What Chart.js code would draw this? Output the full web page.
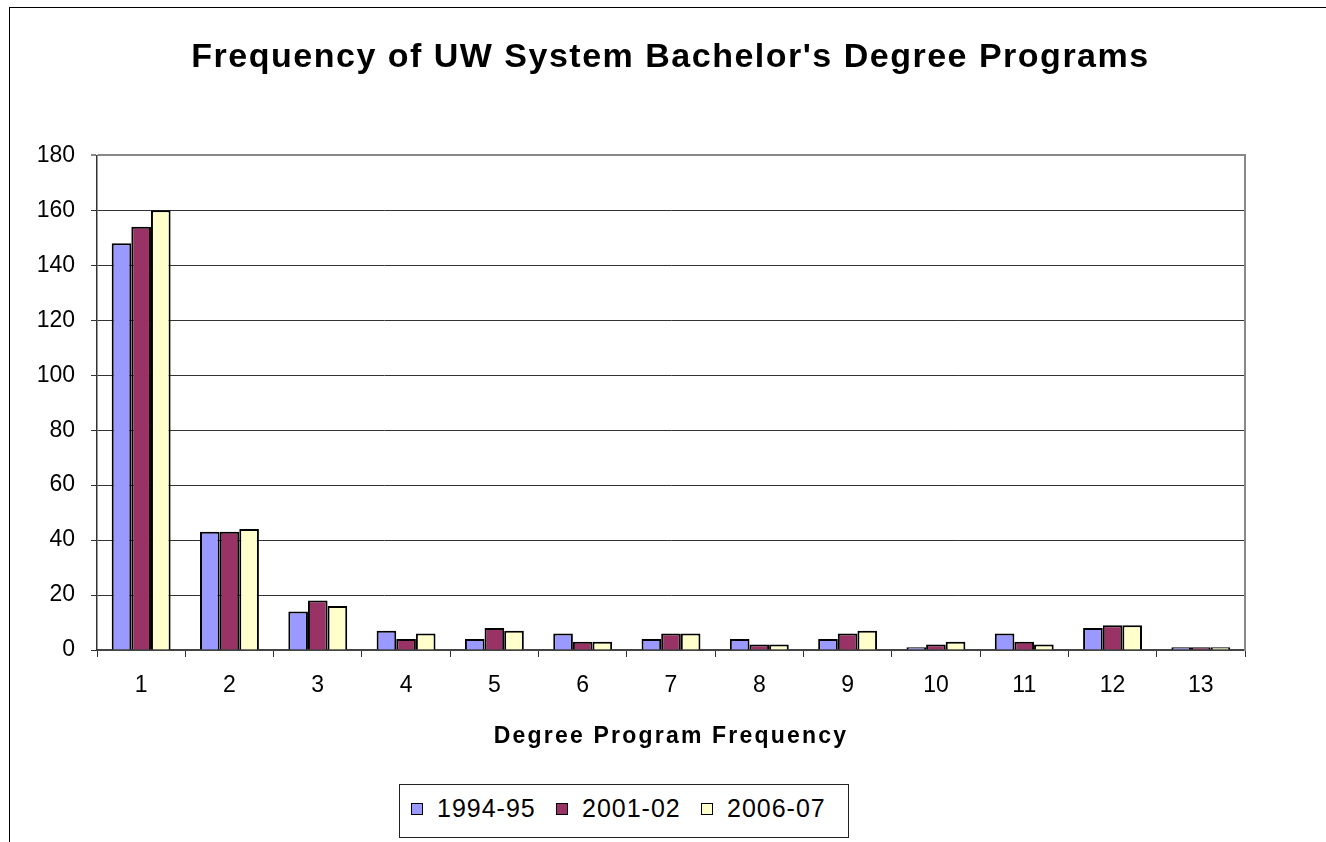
<!DOCTYPE html>
<html>
<head>
<meta charset="utf-8">
<title>Frequency of UW System Bachelor's Degree Programs</title>
<script src="https://cdn.jsdelivr.net/npm/chart.js@4.4.1/dist/chart.umd.min.js"></script>
<style>
    html, body { margin: 0; padding: 0; background: #fff; overflow: hidden; }
    body { width: 1326px; height: 842px; position: relative; }
    /* outer chart frame, as the sheet object border */
    #frame {
        position: absolute; left: 9px; top: 7px; width: 1400px; height: 900px;
        border-left: 1px solid #000; border-top: 1px solid #000;
    }
    #wrap { position: absolute; left: 0; top: 0; width: 1326px; height: 842px; }
    #legend {
        position: absolute; left: 399px; top: 784px; width: 437px; height: 52px;
        border: 1px solid #222; background: #fff;
        display: flex; align-items: center; padding-left: 11px; box-sizing: content-box;
        font-family: 'Liberation Sans', Arial, sans-serif;
        font-size: 25px; letter-spacing: 1px; color: #000;
    }
    #legend .item { display: flex; align-items: center; width: 145px; flex: none; padding-bottom: 5px; white-space: nowrap; }
    #legend .sw { width: 10px; height: 10px; border: 1.5px solid #000; margin-right: 14px; flex: none; }
</style>
</head>
<body>
<div id="frame"></div>
<div id="wrap"><canvas id="chart-degree-freq"></canvas></div>
<div id="legend"></div>

<script>
/* ── Chart data ── */
var categories = ['1', '2', '3', '4', '5', '6', '7', '8', '9', '10', '11', '12', '13'];
var seriesNames = ['1994-95', '2001-02', '2006-07'];
var values9495 = [148, 43, 14, 7, 4, 6, 4, 4, 4, 1, 6, 8, 1];
var values0102 = [154, 43, 18, 4, 8, 3, 6, 2, 6, 2, 3, 9, 1];
var values0607 = [160, 44, 16, 6, 7, 3, 6, 2, 7, 3, 2, 9, 1];
var yTicks = [0, 20, 40, 60, 80, 100, 120, 140, 160, 180];

// classic Excel palette
var seriesColors = ['#9999FF', '#993366', '#FFFFCC'];
var FONT = "'Liberation Sans', Arial, sans-serif";

// wrap a draw method so its text gets Excel-like letter spacing
function withSpacing(obj, method, spacing) {
    if (!obj || !obj[method] || obj[method]._spaced) return;
    var orig = obj[method];
    var fn = function () {
        var c = this.ctx;
        c.save();
        c.letterSpacing = spacing;
        orig.apply(this, arguments);
        c.restore();
    };
    fn._spaced = true;
    obj[method] = fn;
}

var spacingPlugin = {
    id: 'spacing',
    afterUpdate: function (chart) {
        withSpacing(chart.titleBlock, 'draw', '1.5px');
        withSpacing(chart.scales.x, 'drawTitle', '2.2px');
    }
};

var seriesData = [values9495, values0102, values0607];
var datasets = seriesNames.map(function (name, i) {
    return {
        label: name,
        data: seriesData[i],
        backgroundColor: seriesColors[i],
        borderColor: '#000',
        borderWidth: 2,
        borderSkipped: 'bottom',
        categoryPercentage: 0.667,
        barPercentage: 1.0,
        yAxisID: 'y'
    };
});

var ctx = document.getElementById('chart-degree-freq').getContext('2d');
var degreeChart = new Chart(ctx, {
    type: 'bar',
    data: { labels: categories, datasets: datasets },
    plugins: [spacingPlugin],
    options: {
        responsive: true,
        maintainAspectRatio: false,
        animation: false,
        layout: { padding: { left: 15, right: 0, top: 0, bottom: 91 } },
        plugins: {
            legend: { display: false },
            tooltip: { enabled: false },
            title: {
                display: true,
                text: "Frequency of UW System Bachelor's Degree Programs",
                color: '#000',
                font: { family: FONT, size: 34, weight: 'bold', lineHeight: 1.2 },
                padding: { top: 37, bottom: 77.6 }
            }
        },
        scales: {
            x: {
                offset: true,
                grid: { display: true, offset: true, drawOnChartArea: false, drawTicks: true, tickLength: 7, color: '#333' },
                border: { display: true, color: '#444', width: 2 },
                ticks: {
                    color: '#000', autoSkip: false, maxRotation: 0, padding: 15,
                    font: { family: FONT, size: 23, lineHeight: 1.2 }
                },
                title: {
                    display: true, text: 'Degree Program Frequency', color: '#000',
                    font: { family: FONT, size: 23, weight: 'bold', lineHeight: 1.2 },
                    padding: { top: 0, bottom: 1 }
                },
                afterFit: function (scale) { scale.height = 101; }
            },
            y: {
                min: 0, max: 180,
                afterBuildTicks: function (scale) {
                    scale.ticks = yTicks.map(function (v) { return { value: v }; });
                },
                grid: {
                    tickLength: 6,
                    color: function (c) { return c.tick && c.tick.value === 180 ? '#888' : '#333'; },
                    lineWidth: function (c) { return c.tick && c.tick.value === 180 ? 2 : 1; }
                },
                border: { display: true, color: '#333', width: 1.5 },
                ticks: {
                    color: '#000', padding: 16,
                    font: { family: FONT, size: 23, lineHeight: 1.2 }
                },
                afterFit: function (scale) { scale.width = 82; }
            },
            // right-hand plot frame only
            yR: {
                position: 'right', min: 0, max: 180,
                grid: { display: false },
                ticks: { display: false },
                border: { display: true, color: '#888', width: 2 },
                afterFit: function (scale) { scale.width = 81; }
            }
        }
    }
});

/* ── Boxed legend under the axis title ── */
var legendEl = document.getElementById('legend');
seriesNames.forEach(function (name, i) {
    var item = document.createElement('div');
    item.className = 'item';
    var sw = document.createElement('span');
    sw.className = 'sw';
    sw.style.background = seriesColors[i];
    var txt = document.createElement('span');
    txt.textContent = name;
    item.appendChild(sw);
    item.appendChild(txt);
    legendEl.appendChild(item);
});
</script>
</body>
</html>
